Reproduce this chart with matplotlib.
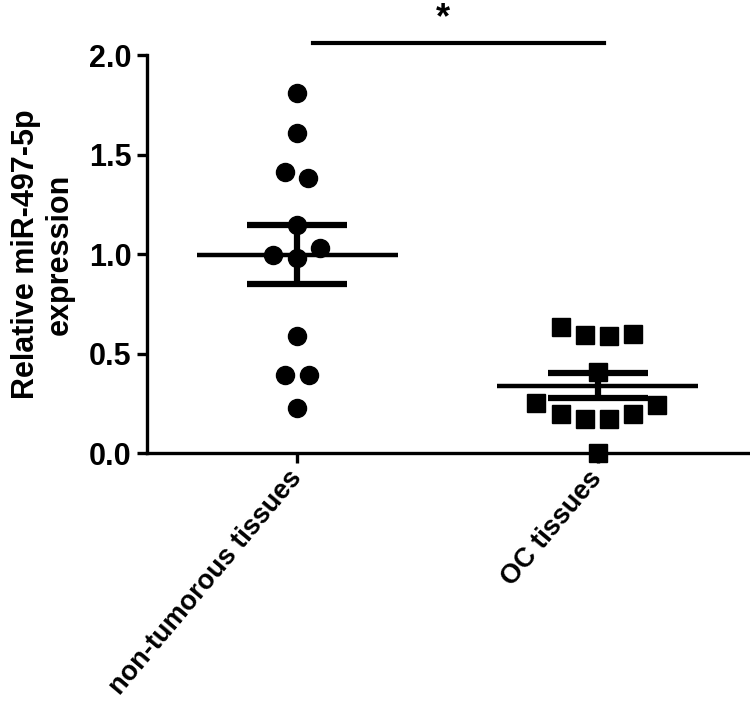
import numpy as np
import matplotlib.pyplot as plt

plt.rcParams['font.family'] = ['Liberation Sans', 'DejaVu Sans']
plt.rcParams['font.weight'] = 'bold'

# data
groups = ['non-tumorous tissues', 'OC tissues']
nontumor = [1.808, 1.607, 1.414, 1.385, 1.146, 0.995, 0.981, 1.029, 0.589, 0.392, 0.392, 0.225]
oc = [0.635, 0.593, 0.588, 0.598, 0.409, 0.250, 0.241, 0.199, 0.174, 0.174, 0.196, 0.0]
yticks = [0.0, 0.5, 1.0, 1.5, 2.0]
ylabel = 'Relative miR-497-5p\nexpression'
sig_label = '*'

# horizontal scatter of the points (layout only)
jitter1 = [0, 0, -0.04, 0.037, 0, -0.082, 0, 0.077, 0, -0.04, 0.04, 0]
jitter2 = [-0.122, -0.042, 0.039, 0.118, 0, -0.204, 0.199, -0.122, -0.042, 0.039, 0.118, 0]

fig = plt.figure(figsize=(7.5, 7.07), dpi=100)
ax = fig.add_axes([0.196, 0.359, 0.801, 0.563])

series = [(nontumor, jitter1, 'o'), (oc, jitter2, 's')]
for i, (vals, jit, mk) in enumerate(series):
    vals = np.array(vals)
    xs = i + np.array(jit)
    ax.plot(xs, vals, linestyle='none', marker=mk, markersize=13,
            color='black', clip_on=False, zorder=3)
    mean = vals.mean()
    sem = vals.std(ddof=1) / np.sqrt(len(vals))
    ax.hlines(mean, i - 0.334, i + 0.334, color='black', lw=3.2, zorder=4)
    ax.errorbar(i, mean, yerr=sem, fmt='none', ecolor='black',
                elinewidth=4.5, capsize=36, capthick=4.5, zorder=4)

# significance bar
ax.plot([0.054, 1.023], [2.06, 2.06], color='black', lw=3, clip_on=False)
ax.text(0.484, 2.185, sig_label, ha='center', va='center', fontsize=26,
        fontweight='bold', clip_on=False)

ax.set_xlim(-0.5, 1.5)
ax.set_ylim(0, 2.0)
ax.set_yticks(yticks)
ax.set_yticklabels([f'{t:.1f}' for t in yticks], fontsize=22, fontweight='bold')
ax.set_xticks([0, 1])
ax.set_xticklabels(groups, rotation=50, ha='right', va='center',
                   rotation_mode='anchor', fontsize=19.5, fontweight='bold')
ax.set_ylabel(ylabel, fontsize=22, fontweight='bold', labelpad=10)

for side in ['top', 'right']:
    ax.spines[side].set_visible(False)
for side in ['left', 'bottom']:
    ax.spines[side].set_linewidth(2.4)
ax.tick_params(width=2.4, length=7, pad=4)
ax.tick_params(axis='x', pad=8)

fig.savefig('out.png', dpi=100)
